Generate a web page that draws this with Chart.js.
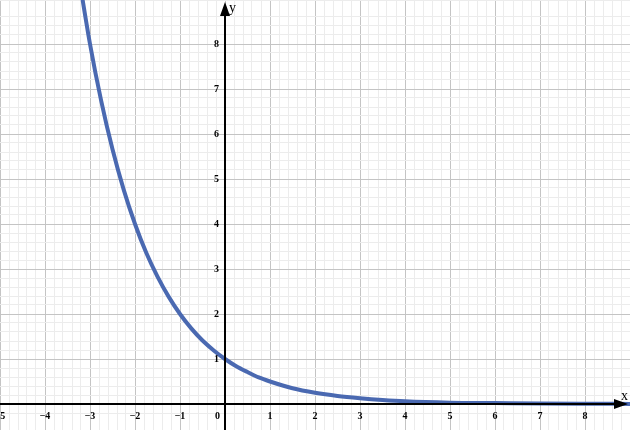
<!DOCTYPE html>
<html>
<head>
<meta charset="utf-8">
<script src="https://cdn.jsdelivr.net/npm/chart.js@4"></script>
<style>
html, body { margin: 0; padding: 0; background: #fff; }
#wrap { width: 630px; height: 430px; }
</style>
</head>
<body>
<div id="wrap"><canvas id="plot" width="630" height="430"></canvas></div>
<script>
// curve values
var xs = [-3.25, -3, -2.75, -2.5, -2.25, -2, -1.75, -1.5, -1.25, -1, -0.75, -0.5, -0.25, 0, 0.25, 0.5, 0.75, 1, 1.5, 2, 2.5, 3, 3.5, 4, 5, 6, 7, 8, 9];
var ys = [9.51, 8, 6.73, 5.66, 4.76, 4, 3.36, 2.83, 2.38, 2, 1.68, 1.41, 1.19, 1, 0.84, 0.71, 0.59, 0.5, 0.35, 0.25, 0.18, 0.13, 0.09, 0.06, 0.03, 0.02, 0.01, 0.005, 0.002];
var xTicks = [-5, -4, -3, -2, -1, 1, 2, 3, 4, 5, 6, 7, 8];
var yTicks = [1, 2, 3, 4, 5, 6, 7, 8];

var pts = xs.map(function(x, i){ return {x: x, y: ys[i]}; });

function gridColor(ctx){
	var v = ctx.tick ? ctx.tick.value : 0;
	return Math.abs(v - Math.round(v)) < 1e-6 ? '#c4c4c4' : '#ececec';
}

var axesPlugin = {
	id: 'axes',
	afterDatasetsDraw: function(chart){
		var c = chart.ctx, sx = chart.scales.x, sy = chart.scales.y;
		var ox = Math.round(sx.getPixelForValue(0)), oy = Math.round(sy.getPixelForValue(0));
		var a = chart.chartArea;
		c.save();
		c.strokeStyle = '#000'; c.fillStyle = '#000'; c.lineWidth = 2;
		c.beginPath();
		c.moveTo(a.left, oy); c.lineTo(a.right - 6, oy);
		c.moveTo(ox, a.bottom); c.lineTo(ox, a.top + 6);
		c.stroke();
		// arrow heads
		c.beginPath();
		c.moveTo(a.right - 2, oy); c.lineTo(a.right - 16, oy - 5); c.lineTo(a.right - 16, oy + 5); c.closePath();
		c.moveTo(ox, a.top + 2); c.lineTo(ox - 5, a.top + 16); c.lineTo(ox + 5, a.top + 16); c.closePath();
		c.fill();
		c.font = 'bold 10px "Liberation Serif", serif';
		c.textAlign = 'center'; c.textBaseline = 'top';
		xTicks.forEach(function(v){
			var lbl = v < 0 ? '\u2212' + (-v) : String(v);
			c.fillText(lbl, sx.getPixelForValue(v), oy + 7);
		});
		c.textAlign = 'right'; c.fillText('0', ox - 5, oy + 7);
		c.textBaseline = 'middle';
		yTicks.forEach(function(v){
			c.fillText(String(v), ox - 6, sy.getPixelForValue(v));
		});
		c.font = '14px "Liberation Serif", serif';
		c.textAlign = 'left'; c.textBaseline = 'top';
		c.fillText('y', ox + 4, a.top + 1);
		c.textAlign = 'right'; c.textBaseline = 'bottom';
		c.fillText('x', a.right - 2, oy - 1);
		c.restore();
	}
};

function hideScale(s){ s.width = 0; s.height = 0; }

new Chart(document.getElementById('plot'), {
	type: 'scatter',
	data: {
		datasets: [{
			data: pts,
			showLine: true,
			borderColor: '#4a69b1',
			borderWidth: 4,
			pointRadius: 0,
			cubicInterpolationMode: 'monotone',
			fill: false
		}]
	},
	options: {
		responsive: false,
		animation: false,
		events: [],
		layout: { padding: 0 },
		plugins: { legend: { display: false }, tooltip: { enabled: false } },
		scales: {
			x: {
				type: 'linear', min: -5, max: 9,
				afterFit: hideScale,
				border: { display: false },
				ticks: { display: false, stepSize: 0.2, autoSkip: false, maxTicksLimit: 200 },
				grid: { color: gridColor, drawTicks: false, lineWidth: 1 }
			},
			y: {
				type: 'linear', min: -26 / 45, max: 404 / 45,
				afterFit: hideScale,
				border: { display: false },
				ticks: { display: false, stepSize: 0.2, autoSkip: false, maxTicksLimit: 200 },
				grid: { color: gridColor, drawTicks: false, lineWidth: 1 }
			}
		}
	},
	plugins: [axesPlugin]
});
</script>
</body>
</html>
